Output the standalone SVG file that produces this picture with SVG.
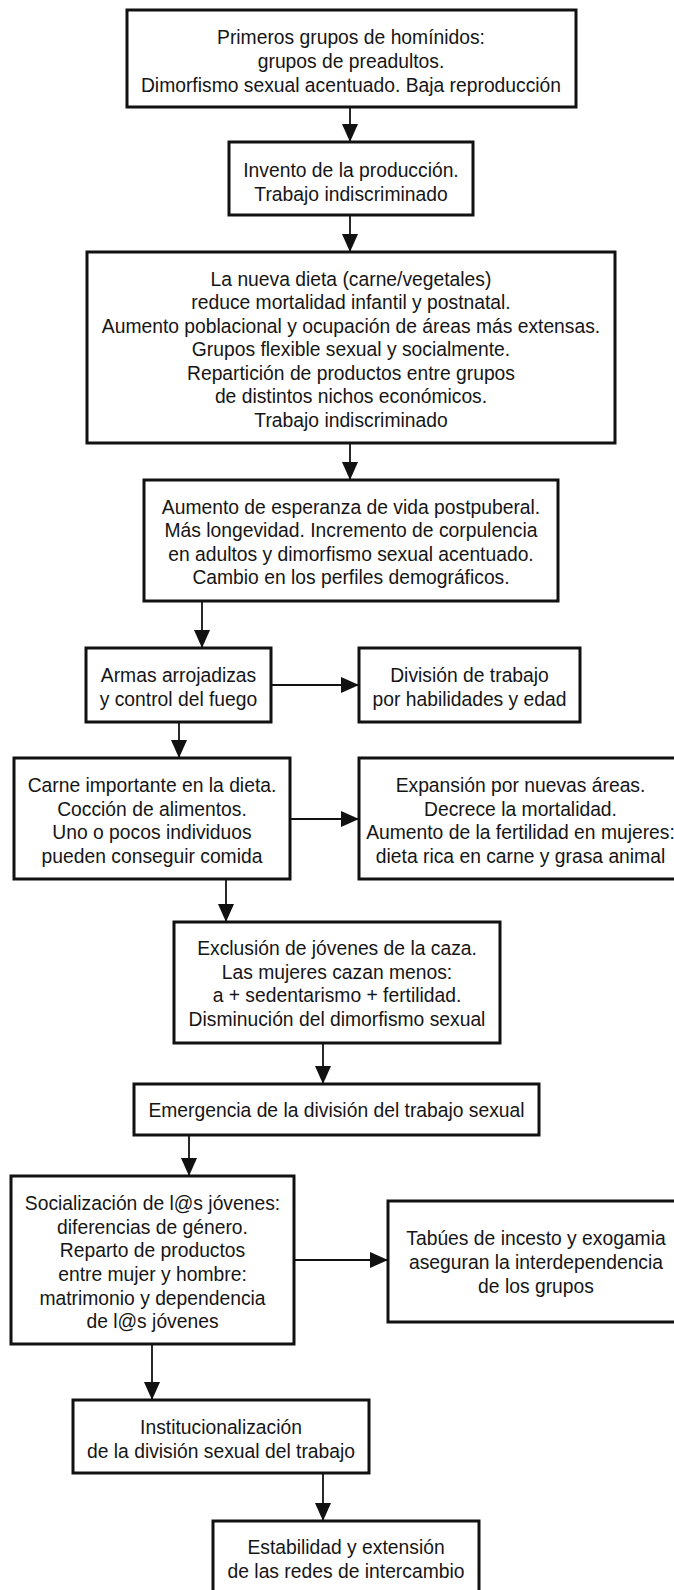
<svg xmlns="http://www.w3.org/2000/svg" width="674" height="1590" viewBox="0 0 674 1590">
<style>
.box{fill:#fff;stroke:#111;stroke-width:3}
.t{font-family:"Liberation Sans",Arial,sans-serif;font-size:19.3px;fill:#151515;text-anchor:middle}
.c{stroke:#111;stroke-width:1.8;fill:none}
</style>
<defs>
<marker id="ah" markerUnits="userSpaceOnUse" markerWidth="18" markerHeight="16" refX="18" refY="8" orient="auto">
<path d="M0,0 L18,8 L0,16 z" fill="#111"/>
</marker>
</defs>
<rect width="674" height="1590" fill="#fff"/>
<g id="connectors">
<line class="c" x1="350" y1="107" x2="350" y2="142" marker-end="url(#ah)"/>
<line class="c" x1="350" y1="215" x2="350" y2="252" marker-end="url(#ah)"/>
<line class="c" x1="350" y1="443" x2="350" y2="480" marker-end="url(#ah)"/>
<line class="c" x1="202" y1="601" x2="202" y2="648" marker-end="url(#ah)"/>
<line class="c" x1="271" y1="685" x2="359" y2="685" marker-end="url(#ah)"/>
<line class="c" x1="179" y1="722" x2="179" y2="758" marker-end="url(#ah)"/>
<line class="c" x1="290" y1="819" x2="359" y2="819" marker-end="url(#ah)"/>
<line class="c" x1="226" y1="879" x2="226" y2="922" marker-end="url(#ah)"/>
<line class="c" x1="323" y1="1043" x2="323" y2="1084" marker-end="url(#ah)"/>
<line class="c" x1="189" y1="1135" x2="189" y2="1176" marker-end="url(#ah)"/>
<line class="c" x1="294" y1="1260" x2="388" y2="1260" marker-end="url(#ah)"/>
<line class="c" x1="152" y1="1344" x2="152" y2="1400" marker-end="url(#ah)"/>
<line class="c" x1="323" y1="1473" x2="323" y2="1521" marker-end="url(#ah)"/>
</g>
<g id="n1">
<rect class="box" x="127" y="10" width="449" height="97"/>
<text class="t"><tspan x="351" y="44">Primeros grupos de homínidos:</tspan><tspan x="351" y="68">grupos de preadultos.</tspan><tspan x="351" y="92">Dimorfismo sexual acentuado. Baja reproducción</tspan></text>
</g>
<g id="n2">
<rect class="box" x="229" y="142" width="244" height="73"/>
<text class="t"><tspan x="351" y="177">Invento de la producción.</tspan><tspan x="351" y="200.5">Trabajo indiscriminado</tspan></text>
</g>
<g id="n3">
<rect class="box" x="87" y="252" width="528" height="191"/>
<text class="t"><tspan x="351" y="285.5">La nueva dieta (carne/vegetales)</tspan><tspan x="351" y="309">reduce mortalidad infantil y postnatal.</tspan><tspan x="351" y="332.5">Aumento poblacional y ocupación de áreas más extensas.</tspan><tspan x="351" y="356">Grupos flexible sexual y socialmente.</tspan><tspan x="351" y="379.5">Repartición de productos entre grupos</tspan><tspan x="351" y="403">de distintos nichos económicos.</tspan><tspan x="351" y="426.5">Trabajo indiscriminado</tspan></text>
</g>
<g id="n4">
<rect class="box" x="144" y="480" width="414" height="121"/>
<text class="t"><tspan x="351" y="513.5">Aumento de esperanza de vida postpuberal.</tspan><tspan x="351" y="537">Más longevidad. Incremento de corpulencia</tspan><tspan x="351" y="560.5">en adultos y dimorfismo sexual acentuado.</tspan><tspan x="351" y="584">Cambio en los perfiles demográficos.</tspan></text>
</g>
<g id="n5">
<rect class="box" x="86" y="648" width="185" height="74"/>
<text class="t"><tspan x="178.5" y="682">Armas arrojadizas</tspan><tspan x="178.5" y="705.5">y control del fuego</tspan></text>
</g>
<g id="n6">
<rect class="box" x="359" y="648" width="221" height="74"/>
<text class="t"><tspan x="469.5" y="682">División de trabajo</tspan><tspan x="469.5" y="705.5">por habilidades y edad</tspan></text>
</g>
<g id="n7">
<rect class="box" x="14" y="758" width="276" height="121"/>
<text class="t"><tspan x="152" y="792">Carne importante en la dieta.</tspan><tspan x="152" y="815.5">Cocción de alimentos.</tspan><tspan x="152" y="839">Uno o pocos individuos</tspan><tspan x="152" y="862.5">pueden conseguir comida</tspan></text>
</g>
<g id="n8">
<rect class="box" x="359" y="758" width="323" height="121"/>
<text class="t"><tspan x="520.5" y="792">Expansión por nuevas áreas.</tspan><tspan x="520.5" y="815.5">Decrece la mortalidad.</tspan><tspan x="520.5" y="839">Aumento de la fertilidad en mujeres:</tspan><tspan x="520.5" y="862.5">dieta rica en carne y grasa animal</tspan></text>
</g>
<g id="n9">
<rect class="box" x="174" y="922" width="326" height="121"/>
<text class="t"><tspan x="337" y="955">Exclusión de jóvenes de la caza.</tspan><tspan x="337" y="978.5">Las mujeres cazan menos:</tspan><tspan x="337" y="1002">a + sedentarismo + fertilidad.</tspan><tspan x="337" y="1025.5">Disminución del dimorfismo sexual</tspan></text>
</g>
<g id="n10">
<rect class="box" x="134" y="1084" width="405" height="51"/>
<text class="t"><tspan x="336.5" y="1117">Emergencia de la división del trabajo sexual</tspan></text>
</g>
<g id="n11">
<rect class="box" x="11" y="1176" width="283" height="168"/>
<text class="t"><tspan x="152.5" y="1210">Socialización de l@s jóvenes:</tspan><tspan x="152.5" y="1233.7">diferencias de género.</tspan><tspan x="152.5" y="1257.3">Reparto de productos</tspan><tspan x="152.5" y="1281">entre mujer y hombre:</tspan><tspan x="152.5" y="1304.7">matrimonio y dependencia</tspan><tspan x="152.5" y="1328.3">de l@s jóvenes</tspan></text>
</g>
<g id="n12">
<rect class="box" x="388" y="1201" width="296" height="121"/>
<text class="t"><tspan x="536" y="1245">Tabúes de incesto y exogamia</tspan><tspan x="536" y="1269">aseguran la interdependencia</tspan><tspan x="536" y="1293">de los grupos</tspan></text>
</g>
<g id="n13">
<rect class="box" x="73" y="1400" width="296" height="73"/>
<text class="t"><tspan x="221" y="1434">Institucionalización</tspan><tspan x="221" y="1458">de la división sexual del trabajo</tspan></text>
</g>
<g id="n14">
<rect class="box" x="213" y="1521" width="266" height="85"/>
<text class="t"><tspan x="346" y="1554">Estabilidad y extensión</tspan><tspan x="346" y="1577.5">de las redes de intercambio</tspan></text>
</g>
</svg>
